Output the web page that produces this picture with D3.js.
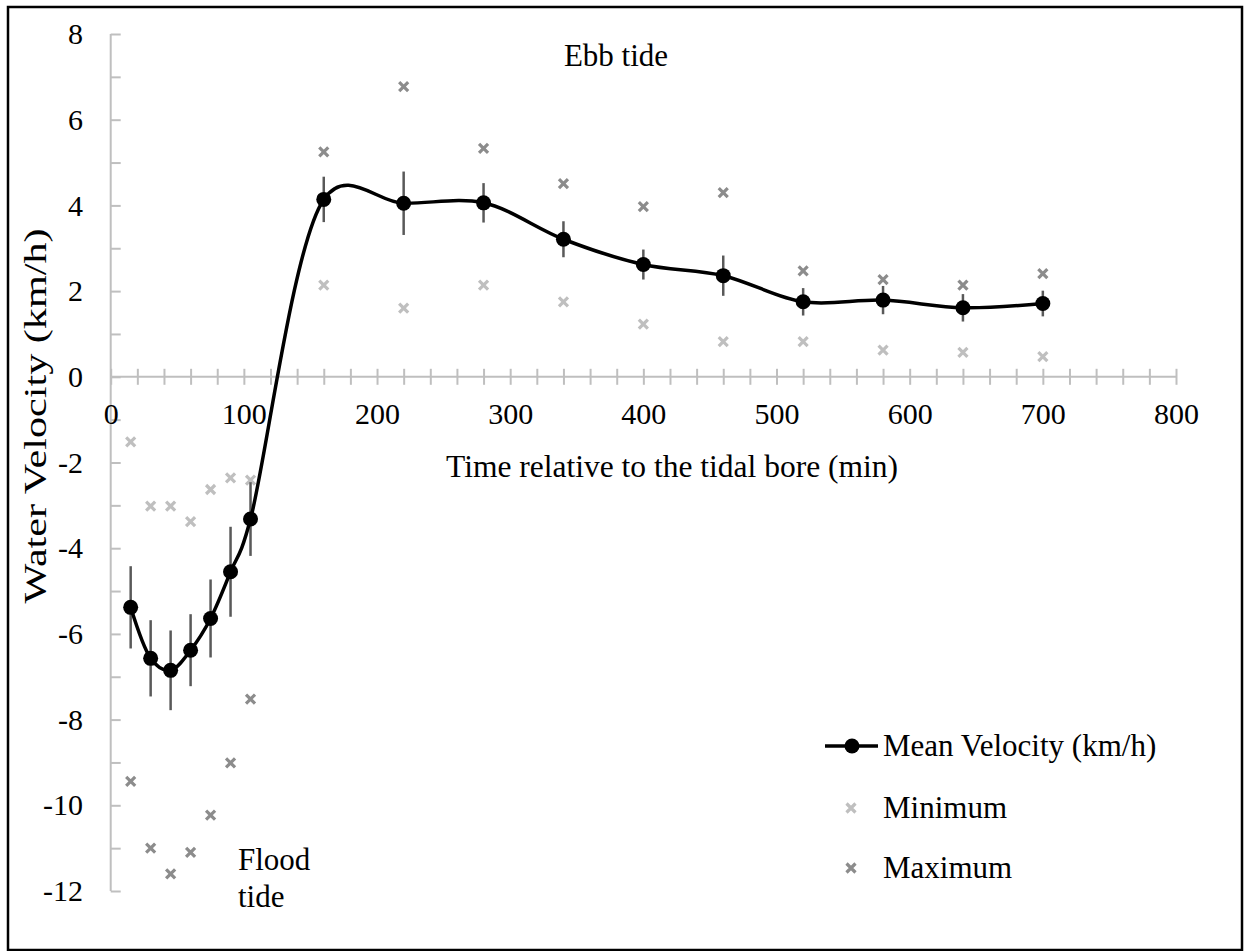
<!DOCTYPE html>
<html>
<head>
<meta charset="utf-8">
<script src="https://cdn.jsdelivr.net/npm/d3@7"></script>
<style>
  body { margin: 0; background: #fff; }
  text { font-family: "Liberation Serif", "Times New Roman", serif; fill: #000; }
</style>
</head>
<body>
<svg id="chart" width="1250" height="951"></svg>
<script>
// time after the bore (min)
var times = [15, 30, 45, 60, 75, 90, 105, 160, 220, 280, 340, 400, 460, 520, 580, 640, 700];
// mean velocity and its error bar half-width (km/h)
var meanVel = [-5.38, -6.57, -6.85, -6.38, -5.64, -4.55, -3.32, 4.14, 4.05, 4.06, 3.21, 2.62, 2.36, 1.75, 1.79, 1.61, 1.71];
var errVel = [0.96, 0.89, 0.93, 0.84, 0.91, 1.05, 0.86, 0.53, 0.74, 0.46, 0.42, 0.35, 0.47, 0.32, 0.33, 0.32, 0.30];
var minVel = [-1.52, -3.02, -3.02, -3.38, -2.63, -2.36, -2.41, 2.14, 1.60, 2.14, 1.75, 1.23, 0.82, 0.82, 0.62, 0.57, 0.47];
var maxVel = [-9.44, -11.0, -11.6, -11.1, -10.23, -9.01, -7.52, 5.25, 6.77, 5.33, 4.51, 3.97, 4.30, 2.47, 2.27, 2.14, 2.41];

var xMajor = [0, 100, 200, 300, 400, 500, 600, 700, 800];
var yMajor = [-12, -10, -8, -6, -4, -2, 0, 2, 4, 6, 8];

var axisGrey = "#bfbfbf", minCol = "#bfbfbf", maxCol = "#8c8c8c", errCol = "#595959";

var svg = d3.select("#chart");

svg.append("rect")
  .attr("x", 8).attr("y", 7).attr("width", 1234).attr("height", 943)
  .style("fill", "none").style("stroke", "#000").style("stroke-width", 2.5);

var x = d3.scaleLinear().domain([0, 800]).range([110.7, 1176]);
var y = d3.scaleLinear().domain([-12, 8]).range([891, 34]);

// y axis: line + ticks pointing right, labels on the left
var yTicks = svg.append("g")
  .attr("transform", "translate(" + x(0) + ",0)")
  .call(d3.axisRight(y).tickValues(d3.range(-12, 9, 1)).tickSize(10).tickFormat(""));
yTicks.select(".domain").remove();
yTicks.append("line").attr("y1", y(-12)).attr("y2", y(8));
yTicks.selectAll("line").style("stroke", axisGrey).style("stroke-width", 2);

var yLab = svg.append("g")
  .attr("transform", "translate(83,0)")
  .call(d3.axisLeft(y).tickValues(yMajor).tickSize(0).tickPadding(0)
    .tickFormat(function(d) { return String(d); }));
yLab.select(".domain").remove();
yLab.selectAll("text").style("font-size", "30px").style("font-family", "Liberation Serif");

// x axis at zero: cross ticks
var xTicks = svg.append("g")
  .attr("transform", "translate(0," + y(0) + ")")
  .call(d3.axisBottom(x).tickValues(d3.range(0, 801, 20)).tickFormat(""));
xTicks.select(".domain").remove();
xTicks.selectAll(".tick line").attr("y1", -8).attr("y2", 8);
xTicks.append("line").attr("x1", x(0)).attr("x2", x(800));
xTicks.selectAll("line").style("stroke", axisGrey).style("stroke-width", 2);

var xLab = svg.append("g")
  .attr("transform", "translate(0," + y(0) + ")")
  .call(d3.axisBottom(x).tickValues(xMajor).tickSize(0));
xLab.select(".domain").remove();
xLab.selectAll("text").attr("y", 47).attr("dy", 0)
  .style("font-size", "30px").style("font-family", "Liberation Serif");

// axis titles
svg.append("text")
  .attr("x", 672).attr("y", 477)
  .attr("text-anchor", "middle")
  .style("font-size", "31.5px")
  .text("Time relative to the tidal bore (min)");

svg.append("text")
  .attr("transform", "translate(46,416)rotate(-90)")
  .attr("text-anchor", "middle")
  .attr("textLength", 375).attr("lengthAdjust", "spacingAndGlyphs")
  .style("font-size", "31px")
  .text("Water Velocity (km/h)");

// annotations
svg.append("text").attr("x", 616).attr("y", 66).attr("text-anchor", "middle")
  .style("font-size", "31px").text("Ebb tide");
svg.append("text").attr("x", 238).attr("y", 870).style("font-size", "31px").text("Flood");
svg.append("text").attr("x", 238).attr("y", 907).style("font-size", "31px").text("tide");

function cross(g, cx, cy, col) {
  var s = 4.5;
  g.append("path")
    .attr("d", "M" + (cx - s) + "," + (cy - s) + "L" + (cx + s) + "," + (cy + s) +
               "M" + (cx - s) + "," + (cy + s) + "L" + (cx + s) + "," + (cy - s))
    .style("stroke", col).style("stroke-width", 3.2).style("fill", "none");
}

var marks = svg.append("g");
times.forEach(function(t, i) {
  cross(marks, x(t), y(minVel[i]), minCol);
  cross(marks, x(t), y(maxVel[i]), maxCol);
});

// error bars
svg.append("g").selectAll("line").data(times).enter().append("line")
  .attr("x1", function(d) { return x(d); })
  .attr("x2", function(d) { return x(d); })
  .attr("y1", function(d, i) { return y(meanVel[i] + errVel[i]); })
  .attr("y2", function(d, i) { return y(meanVel[i] - errVel[i]); })
  .style("stroke", errCol).style("stroke-width", 2.5);

// smoothed mean line
var line = d3.line()
  .x(function(d) { return x(d); })
  .y(function(d, i) { return y(meanVel[i]); })
  .curve(d3.curveCatmullRom.alpha(0.2));

svg.append("path").datum(times)
  .attr("d", line)
  .style("fill", "none").style("stroke", "#000").style("stroke-width", 3.5);

svg.append("g").selectAll("circle").data(times).enter().append("circle")
  .attr("cx", function(d) { return x(d); })
  .attr("cy", function(d, i) { return y(meanVel[i]); })
  .attr("r", 7.5)
  .style("fill", "#000");

// legend
var leg = svg.append("g");
leg.append("line").attr("x1", 825).attr("x2", 878).attr("y1", 746).attr("y2", 746)
  .style("stroke", "#000").style("stroke-width", 3.5);
leg.append("circle").attr("cx", 852).attr("cy", 746).attr("r", 7.5).style("fill", "#000");
leg.append("text").attr("x", 883).attr("y", 756).style("font-size", "31px").text("Mean Velocity (km/h)");
cross(leg, 851, 808, minCol);
leg.append("text").attr("x", 883).attr("y", 818).style("font-size", "31px").text("Minimum");
cross(leg, 851, 868, maxCol);
leg.append("text").attr("x", 883).attr("y", 878).style("font-size", "31px").text("Maximum");
</script>
</body>
</html>
